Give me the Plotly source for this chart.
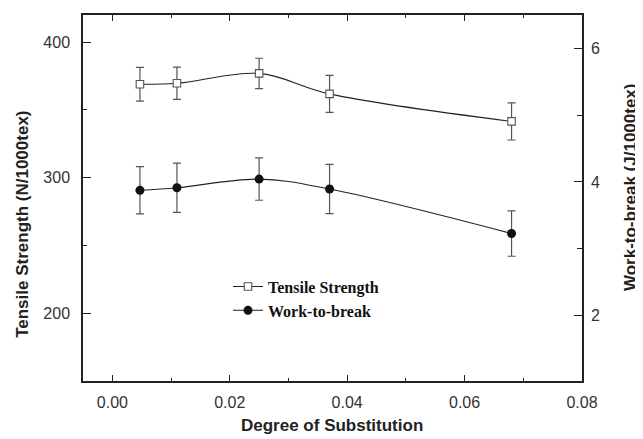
import plotly.graph_objects as go

# Data
dos = [0.0047, 0.011, 0.025, 0.037, 0.068]
tensile = [368.9, 369.6, 376.9, 361.8, 341.5]
tensile_err = [12.5, 11.9, 11.2, 13.6, 13.7]
wtb = [3.875, 3.913, 4.043, 3.894, 3.228]
wtb_err = [0.354, 0.368, 0.317, 0.368, 0.340]

x_ticks = [0.00, 0.02, 0.04, 0.06, 0.08]
y1_ticks = [200, 300, 400]
y2_ticks = [2, 4, 6]

# page body has an 8px default margin; figure drawn at (8, 8)
OFF = 8
W, H = 643 - OFF, 439 - OFF
L, T = 83 - OFF, 13 - OFF
R = W - (582 - OFF)
B = H - (381 - OFF)
pw, ph = W - L - R, H - T - B

def px_x(p):
    return (p - OFF - L) / pw

def px_y(p):
    return (H - B - (p - OFF)) / ph

fig = go.Figure()
fig.add_trace(go.Scatter(
    x=dos, y=tensile, name="<b>Tensile Strength</b>",
    mode="lines+markers", line=dict(color="#222", width=1.1, shape="spline"),
    marker=dict(symbol="square", size=7.5, color="white", line=dict(color="#555", width=1.1)),
    error_y=dict(type="data", array=tensile_err, color="#555", thickness=1.2, width=4),
))
fig.add_trace(go.Scatter(
    x=dos, y=wtb, name="<b>Work-to-break</b>", yaxis="y2",
    mode="lines+markers", line=dict(color="#222", width=1.1, shape="spline"),
    marker=dict(symbol="circle", size=9, color="#111", line=dict(color="#111", width=0)),
    error_y=dict(type="data", array=wtb_err, color="#555", thickness=1.2, width=4),
))

tickfont = dict(family="Arial, Liberation Sans, sans-serif", size=16, color="#333")
titlefont = dict(family="Arial, Liberation Sans, sans-serif", size=17, color="#222")
axline = dict(showline=True, linecolor="#222", linewidth=1.5, showgrid=False, zeroline=False)

fig.update_layout(
    width=W, height=H,
    margin=dict(l=L, r=R, t=T, b=B, pad=0),
    paper_bgcolor="white", plot_bgcolor="white",
    xaxis=dict(range=[-0.005, 0.08], tickvals=x_ticks, ticktext=[f"{v:.2f}" for v in x_ticks],
               ticks="inside", ticklen=6, tickwidth=1.2, tickcolor="#222",
               mirror="ticks", tickfont=tickfont, ticklabelstandoff=6,
               minor=dict(dtick=0.01, ticks="inside", ticklen=3, tickwidth=1.2, tickcolor="#222"),
               **axline),
    yaxis=dict(range=[150, 420], tickvals=y1_ticks,
               ticks="inside", ticklen=8, tickwidth=1.2, tickcolor="#222",
               tickfont=tickfont, ticklabelstandoff=8,
               minor=dict(dtick=50, ticks="inside", ticklen=4, tickwidth=1.2, tickcolor="#222"),
               **axline),
    yaxis2=dict(range=[1.02, 6.5], tickvals=y2_ticks, overlaying="y", side="right",
                ticks="inside", ticklen=8, tickwidth=1.2, tickcolor="#222",
                tickfont=tickfont, ticklabelstandoff=4,
                minor=dict(dtick=1, ticks="inside", ticklen=5, tickwidth=1.2, tickcolor="#222"),
                **axline),
    showlegend=True,
    legend=dict(x=px_x(228), y=px_y(269), xanchor="left", yanchor="top",
                bgcolor="rgba(0,0,0,0)", borderwidth=0,
                font=dict(family="Liberation Serif, Times New Roman, serif", size=16, color="#111"),
                tracegroupgap=0),
    annotations=[
        dict(text="<b>Tensile Strength (N/1000tex)</b>", xref="paper", yref="paper",
             x=px_x(23), y=px_y(224), textangle=-90, showarrow=False,
             xanchor="center", yanchor="middle", font=titlefont),
        dict(text="<b>Work-to-break (J/1000tex)</b>", xref="paper", yref="paper",
             x=px_x(630), y=px_y(186), textangle=-90, showarrow=False,
             xanchor="center", yanchor="middle", font=titlefont),
        dict(text="<b>Degree of Substitution</b>", xref="paper", yref="paper",
             x=px_x(332), y=px_y(426), showarrow=False,
             xanchor="center", yanchor="middle", font=titlefont),
    ],
)

fig.write_html("out.html")
